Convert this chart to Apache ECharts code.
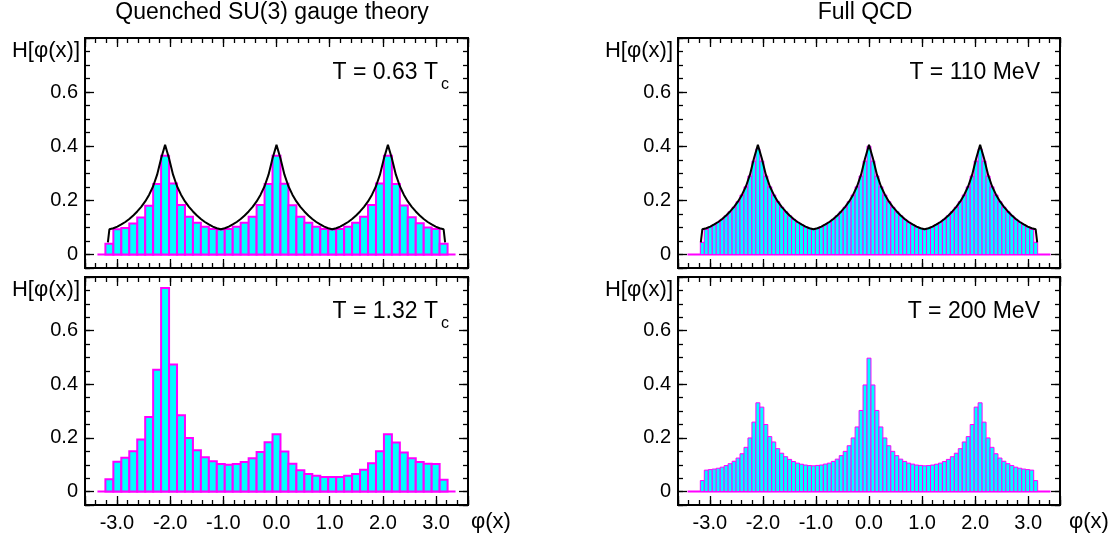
<!DOCTYPE html>
<html><head><meta charset="utf-8">
<script src="https://cdn.jsdelivr.net/npm/echarts@6/dist/echarts.min.js"></script>
<style>html,body{margin:0;padding:0;background:#fff}#c{width:1117px;height:534px}</style>
</head><body><div id="c"></div>
<script>
// ---------- data ----------
const xTickValues = [-3, -2, -1, 0, 1, 2, 3];
const xTickLabels = ['-3.0', '-2.0', '-1.0', '0.0', '1.0', '2.0', '3.0'];
const yTickValues = [0, 0.2, 0.4, 0.6];
const yTickLabels = ['0', '0.2', '0.4', '0.6'];
const panelTitles = ['Quenched SU(3) gauge theory', 'Full QCD'];
const panelTemps = ['T = 0.63 T', 'T = 1.32 T', 'T = 110 MeV', 'T = 200 MeV'];
const panelTempSubs = ['c', 'c', '', ''];
const yName = 'H[φ(x)]';
const xName = 'φ(x)';

// number of bins per 2π (bars centred at k·2π/n, k = -n/2 … n/2)
const quenchedBins = 42;
const fullBins = 84;

const quenchedLow = [0.040, 0.093, 0.098, 0.114, 0.137, 0.180, 0.260, 0.365, 0.262, 0.183, 0.139, 0.117, 0.102, 0.094, 0.092,
  0.094, 0.102, 0.117, 0.139, 0.183, 0.260, 0.365, 0.261, 0.182, 0.139, 0.117, 0.102, 0.094, 0.092,
  0.094, 0.102, 0.117, 0.139, 0.183, 0.262, 0.365, 0.260, 0.181, 0.138, 0.115, 0.100, 0.094, 0.040];
const quenchedHigh = [0.046, 0.111, 0.126, 0.150, 0.194, 0.278, 0.454, 0.759, 0.474, 0.285, 0.200, 0.154, 0.128, 0.113, 0.103,
  0.100, 0.103, 0.110, 0.124, 0.148, 0.184, 0.214, 0.149, 0.104, 0.080, 0.066, 0.059, 0.054, 0.054,
  0.054, 0.059, 0.066, 0.081, 0.106, 0.150, 0.214, 0.183, 0.146, 0.124, 0.110, 0.104, 0.103, 0.044];
const fullLow = [0.045, 0.093, 0.102, 0.110, 0.119, 0.130, 0.143, 0.158, 0.175, 0.195, 0.220, 0.250, 0.290, 0.345, 0.390,
  0.345, 0.290, 0.250, 0.220, 0.195, 0.175, 0.158, 0.143, 0.130, 0.119, 0.110, 0.102, 0.096, 0.093,
  0.096, 0.102, 0.110, 0.119, 0.130, 0.143, 0.158, 0.175, 0.195, 0.220, 0.250, 0.290, 0.345, 0.400,
  0.345, 0.290, 0.250, 0.220, 0.195, 0.175, 0.158, 0.143, 0.130, 0.119, 0.110, 0.102, 0.096, 0.093,
  0.096, 0.102, 0.110, 0.119, 0.130, 0.143, 0.158, 0.175, 0.195, 0.220, 0.250, 0.290, 0.345, 0.390,
  0.345, 0.290, 0.250, 0.220, 0.195, 0.175, 0.158, 0.143, 0.130, 0.119, 0.110, 0.102, 0.093, 0.045];
const fullHigh = [0.041, 0.080, 0.082, 0.084, 0.087, 0.091, 0.097, 0.104, 0.113, 0.125, 0.141, 0.165, 0.200, 0.259, 0.331,
  0.315, 0.250, 0.205, 0.185, 0.160, 0.143, 0.130, 0.120, 0.112, 0.106, 0.102, 0.099, 0.097, 0.096,
  0.0975, 0.099, 0.1025, 0.106, 0.1125, 0.121, 0.134, 0.150, 0.171, 0.200, 0.241, 0.3025, 0.3975, 0.4975,
  0.3975, 0.3025, 0.241, 0.200, 0.171, 0.150, 0.134, 0.121, 0.1125, 0.106, 0.1025, 0.099, 0.0975, 0.096,
  0.097, 0.099, 0.102, 0.106, 0.112, 0.120, 0.130, 0.143, 0.160, 0.185, 0.205, 0.250, 0.315, 0.331,
  0.259, 0.200, 0.165, 0.141, 0.125, 0.113, 0.104, 0.097, 0.091, 0.087, 0.084, 0.082, 0.080, 0.041];
// theoretical curve, sampled at k·2π/84, plus its end drops
const curveY = [0.093, 0.097, 0.103, 0.111, 0.120, 0.131, 0.144, 0.159, 0.176, 0.196, 0.221, 0.252, 0.295, 0.355, 0.405,
  0.355, 0.295, 0.252, 0.221, 0.196, 0.176, 0.159, 0.144, 0.131, 0.120, 0.111, 0.103, 0.097, 0.093,
  0.097, 0.103, 0.111, 0.120, 0.131, 0.144, 0.159, 0.176, 0.196, 0.221, 0.252, 0.295, 0.355, 0.405,
  0.355, 0.295, 0.252, 0.221, 0.196, 0.176, 0.159, 0.144, 0.131, 0.120, 0.111, 0.103, 0.097, 0.093,
  0.097, 0.103, 0.111, 0.120, 0.131, 0.144, 0.159, 0.176, 0.196, 0.221, 0.252, 0.295, 0.355, 0.405,
  0.355, 0.295, 0.252, 0.221, 0.196, 0.176, 0.159, 0.144, 0.131, 0.120, 0.111, 0.103, 0.097, 0.093];
const curveEnd = { x: 3.17, y: 0.045 };
const quenchedBaseline = 3.366;
const fullBaseline = 3.42;

// ---------- layout ----------
const X_MIN = -3.6, X_MAX = 3.6, Y_MIN = -0.05, Y_MAX = 0.8;
const FONT = "'Liberation Sans', Arial, Helvetica, sans-serif";
const grids = [
  { left: 85, top: 38, width: 383, height: 230 },
  { left: 85, top: 277, width: 383, height: 228 },
  { left: 678, top: 38, width: 382, height: 230 },
  { left: 678, top: 277, width: 382, height: 228 }
];
const panelData = [quenchedLow, quenchedHigh, fullLow, fullHigh];
const panelBins = [quenchedBins, quenchedBins, fullBins, fullBins];
const panelBase = [quenchedBaseline, quenchedBaseline, fullBaseline, fullBaseline];
const panelStroke = [2, 2, 1, 1];

function centers(n, count) {
  const out = [];
  for (let i = 0; i < count; i++) out.push((i - n / 2) * 2 * Math.PI / n);
  return out;
}
function fmt(values, labels) {
  return v => {
    for (let i = 0; i < values.length; i++) if (Math.abs(v - values[i]) < 1e-6) return labels[i];
    return '';
  };
}

const noLine = { show: false, onZero: false };
const xAxes = [], yAxes = [], series = [];
grids.forEach((g, gi) => {
  const showX = gi === 1 || gi === 3;
  ['bottom', 'top'].forEach(pos => {
    xAxes.push({ gridIndex: gi, type: 'value', position: pos, min: X_MIN, max: X_MAX, splitNumber: 7,
      axisLine: noLine, splitLine: { show: false },
      axisTick: { show: true, inside: true, length: 9, lineStyle: { color: '#000', width: 1.3 } },
      axisLabel: { show: showX && pos === 'bottom', margin: 8, color: '#000', fontSize: 20, fontFamily: FONT,
        formatter: fmt(xTickValues, xTickLabels) } });
    xAxes.push({ gridIndex: gi, type: 'value', position: pos, min: X_MIN, max: X_MAX, interval: 0.2,
      axisLine: noLine, splitLine: { show: false }, axisLabel: { show: false },
      axisTick: { show: true, inside: true, length: 5, lineStyle: { color: '#000', width: 1.3 } } });
  });
  ['left', 'right'].forEach(pos => {
    yAxes.push({ gridIndex: gi, type: 'value', position: pos, min: Y_MIN, max: Y_MAX, splitNumber: 4,
      axisLine: noLine, splitLine: { show: false },
      axisTick: { show: true, inside: true, length: 9, lineStyle: { color: '#000', width: 1.3 } },
      axisLabel: { show: pos === 'left', margin: 7, color: '#000', fontSize: 20, fontFamily: FONT,
        formatter: fmt(yTickValues, yTickLabels) } });
    yAxes.push({ gridIndex: gi, type: 'value', position: pos, min: Y_MIN, max: Y_MAX, interval: 0.05,
      axisLine: noLine, splitLine: { show: false }, axisLabel: { show: false },
      axisTick: { show: true, inside: true, length: 5, lineStyle: { color: '#000', width: 1.3 } } });
  });
  const xi = gi * 4, yi = gi * 4;
  const n = panelBins[gi];
  const vals = panelData[gi];
  const cs = centers(n, vals.length);
  const halfW = Math.PI / n;
  series.push({ type: 'line', xAxisIndex: xi, yAxisIndex: yi, silent: true, animation: false, symbol: 'none', z: 1,
    data: [[-panelBase[gi], 0], [panelBase[gi], 0]], lineStyle: { color: '#ff00ff', width: 2 } });
  series.push({ type: 'custom', xAxisIndex: xi, yAxisIndex: yi, silent: true, animation: false, z: 2,
    data: cs.map((c, i) => [c, vals[i]]),
    renderItem(params, api) {
      const x = api.value(0), y = api.value(1);
      const p0 = api.coord([x - halfW, y]);
      const p1 = api.coord([x + halfW, 0]);
      return { type: 'rect', shape: { x: p0[0], y: p0[1], width: p1[0] - p0[0], height: p1[1] - p0[1] },
        style: { fill: '#00ffff', stroke: '#ff00ff', lineWidth: panelStroke[gi] } };
    } });
  if (gi === 0 || gi === 2) {
    const cx = centers(fullBins, curveY.length);
    const pts = [[-curveEnd.x, curveEnd.y]].concat(cx.map((c, i) => [c, curveY[i]]), [[curveEnd.x, curveEnd.y]]);
    series.push({ type: 'line', xAxisIndex: xi, yAxisIndex: yi, silent: true, animation: false, symbol: 'none', z: 3,
      data: pts, lineStyle: { color: '#000', width: 2 } });
  }
});

const graphics = [];
const txt = (x, y, text, size, align, vAlign) => ({ type: 'text', x, y, silent: true,
  style: { text, fontSize: size, fontFamily: FONT, fill: '#000', textAlign: align, textVerticalAlign: vAlign || 'middle' } });
graphics.push(txt(272, 13, panelTitles[0], 23, 'center'));
graphics.push(txt(865, 13, panelTitles[1], 23, 'center'));
grids.forEach((g, gi) => {
  graphics.push(txt(g.left - 5, g.top + 13, yName, 22, 'right'));
  const right = g.left + g.width;
  if (panelTempSubs[gi]) {
    graphics.push(txt(right - 30, g.top + 35, panelTemps[gi], 23, 'right'));
    graphics.push(txt(right - 27, g.top + 47, panelTempSubs[gi], 16, 'left'));
  } else {
    graphics.push(txt(right - 20, g.top + 35, panelTemps[gi], 23, 'right'));
  }
});
graphics.push(txt(471, 522, xName, 22, 'left'));
graphics.push(txt(1069, 522, xName, 22, 'left'));

const chart = echarts.init(document.getElementById('c'), null, { renderer: 'canvas' });
chart.setOption({
  backgroundColor: '#fff',
  animation: false,
  grid: grids.map(g => Object.assign({ show: true, borderColor: '#000', borderWidth: 2, backgroundColor: 'transparent', containLabel: false }, g)),
  xAxis: xAxes,
  yAxis: yAxes,
  series: series,
  graphic: graphics
});
</script>
</body></html>
